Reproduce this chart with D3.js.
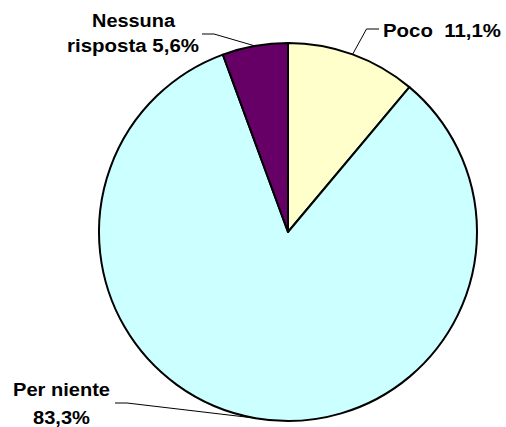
<!DOCTYPE html>
<html>
<head>
<meta charset="utf-8">
<script src="https://cdn.jsdelivr.net/npm/d3@7"></script>
<style>
  html, body { margin: 0; padding: 0; background: #fff; }
  svg { display: block; }
  text { font-family: "Liberation Sans", Arial, sans-serif; font-weight: bold; fill: #000; white-space: pre; }
</style>
</head>
<body>
<svg id="chart" width="506" height="427"></svg>
<script>
// Answers, in clockwise order from 12 o'clock
const categories = ["Poco", "Per niente", "Nessuna risposta"];
const values = [11.1, 83.3, 5.6];
const valueLabels = ["11,1%", "83,3%", "5,6%"];
const colors = ["#FFFFCC", "#CCFFFF", "#660066"];

const svg = d3.select("#chart");
const cx = 288, cy = 232, r = 189;

const data = categories.map((c, i) => ({ name: c, value: values[i], label: valueLabels[i], color: colors[i] }));

const pie = d3.pie().value(d => d.value).sort(null).startAngle(0).endAngle(2 * Math.PI);
const arcs = pie(data);
const arc = d3.arc().innerRadius(0).outerRadius(r);

const g = svg.append("g").attr("transform", `translate(${cx},${cy})`);

g.selectAll("path.slice")
  .data(arcs)
  .join("path")
  .attr("class", "slice")
  .attr("d", arc)
  .attr("fill", d => d.data.color)
  .attr("stroke", "#000")
  .attr("stroke-width", 2)
  .attr("stroke-linejoin", "round");

// point on the rim at the middle of each slice
function rimPoint(d) {
  const a = (d.startAngle + d.endAngle) / 2;
  return [cx + r * Math.sin(a), cy - r * Math.cos(a)];
}

// label layout: text lines and leader elbows
const labelLayout = [
  { lines: [{ t: d => d.data.name + "  " + d.data.label, x: 383, y: 37, w: 118 }],
    leader: [[379, 29], [366.5, 29]] },
  { lines: [{ t: d => d.data.name, x: 13, y: 396, w: 97 },
            { t: d => d.data.label, x: 33, y: 424, w: 57 }],
    leader: [[115, 403], [127, 403]] },
  { lines: [{ t: () => "Nessuna", x: 92, y: 26.5, w: 83 },
            { t: d => "risposta " + d.data.label, x: 67, y: 51.5, w: 132 }],
    leader: [[202, 34], [214, 34]] }
];

arcs.forEach((d, i) => {
  const L = labelLayout[i];
  const pts = L.leader.concat([rimPoint(d)]);
  svg.append("path")
    .attr("d", d3.line()(pts))
    .attr("fill", "none")
    .attr("stroke", "#000")
    .attr("stroke-width", 1);
  L.lines.forEach(ln => {
    svg.append("text")
      .attr("x", ln.x)
      .attr("y", ln.y)
      .attr("font-size", 17.5)
      .attr("textLength", ln.w)
      .attr("lengthAdjust", "spacingAndGlyphs")
      .text(ln.t(d));
  });
});
</script>
</body>
</html>
